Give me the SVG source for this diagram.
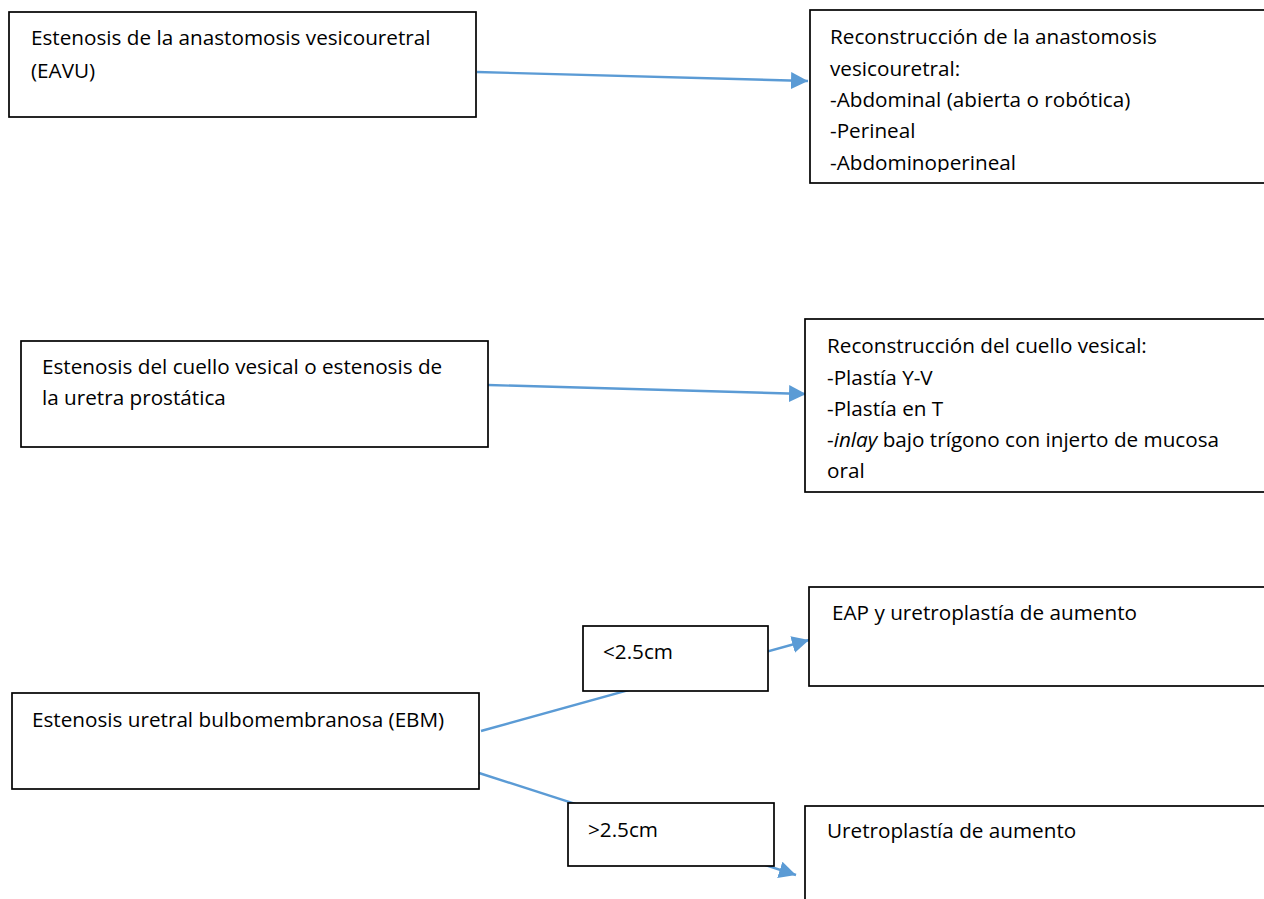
<svg xmlns="http://www.w3.org/2000/svg" width="1264" height="899" viewBox="0 0 1264 899">
<style>
.box{fill:#fff;stroke:#000;stroke-width:1.7}
.t{font-family:"Open Sans","Liberation Sans",sans-serif;font-size:20.7px;fill:#000}
.c{fill:none;stroke:#5B9BD5;stroke-width:2.4}
</style>
<defs>
<marker id="ah" markerUnits="userSpaceOnUse" markerWidth="17" markerHeight="17" refX="17" refY="8.5" orient="auto">
<path d="M0,0 L17,8.5 L0,17 z" fill="#5B9BD5"/>
</marker>
<clipPath id="clip2"><rect x="810" y="10" width="460" height="162"/></clipPath>
</defs>
<rect width="1264" height="899" fill="#fff"/>
<g id="connectors">
<line class="c" x1="477" y1="72" x2="808" y2="81" marker-end="url(#ah)"/>
<line class="c" x1="488" y1="385" x2="806" y2="394" marker-end="url(#ah)"/>
<line class="c" x1="481" y1="731" x2="809" y2="640" marker-end="url(#ah)"/>
<line class="c" x1="479" y1="773" x2="796" y2="875" marker-end="url(#ah)"/>
</g>
<g id="n1">
<rect class="box" x="9" y="12" width="467" height="105"/>
<text class="t" x="31" y="45">Estenosis de la anastomosis vesicouretral</text>
<text class="t" x="31" y="78">(EAVU)</text>
</g>
<g id="n2">
<rect class="box" x="810" y="10" width="470" height="173"/>
<g clip-path="url(#clip2)">
<text class="t" x="830" y="44">Reconstrucción de la anastomosis</text>
<text class="t" x="830" y="76">vesicouretral:</text>
<text class="t" x="830" y="107">-Abdominal (abierta o robótica)</text>
<text class="t" x="830" y="138">-Perineal</text>
<text class="t" x="830" y="170">-Abdominoperineal</text>
</g>
</g>
<g id="n3">
<rect class="box" x="21" y="341" width="467" height="106"/>
<text class="t" x="42" y="374">Estenosis del cuello vesical o estenosis de</text>
<text class="t" x="42" y="405">la uretra prostática</text>
</g>
<g id="n4">
<rect class="box" x="805" y="319" width="470" height="173"/>
<text class="t" x="827" y="353">Reconstrucción del cuello vesical:</text>
<text class="t" x="827" y="385">-Plastía Y-V</text>
<text class="t" x="827" y="416">-Plastía en T</text>
<text class="t" x="827" y="447">-<tspan font-style="italic">inlay</tspan> bajo trígono con injerto de mucosa</text>
<text class="t" x="827" y="478">oral</text>
</g>
<g id="n5">
<rect class="box" x="583" y="626" width="185" height="65"/>
<text class="t" x="603" y="659">&lt;2.5cm</text>
</g>
<g id="n6">
<rect class="box" x="809" y="587" width="470" height="99"/>
<text class="t" x="832" y="620">EAP y uretroplastía de aumento</text>
</g>
<g id="n7">
<rect class="box" x="12" y="693" width="467" height="96"/>
<text class="t" x="32" y="727">Estenosis uretral bulbomembranosa (EBM)</text>
</g>
<g id="n8">
<rect class="box" x="568" y="803" width="206" height="63"/>
<text class="t" x="588" y="837">&gt;2.5cm</text>
</g>
<g id="n9">
<rect class="box" x="805" y="806" width="470" height="120"/>
<text class="t" x="827" y="838">Uretroplastía de aumento</text>
</g>
</svg>
